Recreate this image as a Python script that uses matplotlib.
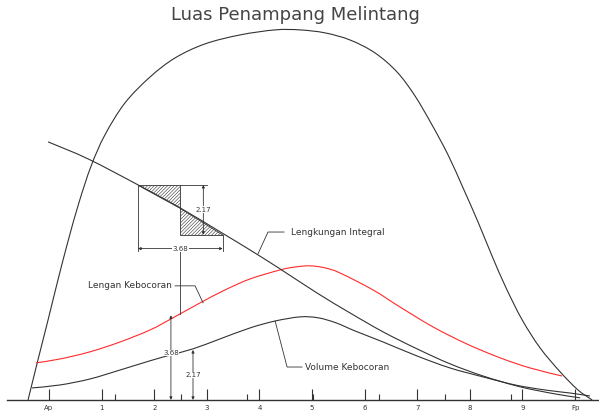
import matplotlib
matplotlib.use('Agg')
import matplotlib.pyplot as plt
from matplotlib.path import Path
from matplotlib.patches import PathPatch

# stations along the hull, spacing in metres
stations = ['Ap', '1', '2', '3', '4', '5', '6', '7', '8', '9', 'Fp']
station_step = 2.287
minor_step = 2.87

# sectional area curve (Luas Penampang)
area_x = [-0.91, -0.48, -0.04, 0.39, 0.83, 1.30, 1.83, 2.43, 3.30, 4.39, 5.48, 6.78,
          8.30, 9.83, 10.91, 12.00, 13.09, 14.17, 15.13, 15.91, 16.65, 17.35, 18.00,
          18.65, 19.26, 19.87, 20.57, 21.35, 22.22, 23.00, 23.61]
area_y = [0.00, 1.74, 3.48, 5.22, 6.91, 8.57, 10.17, 11.52, 12.91, 14.04, 14.87, 15.48,
          15.87, 16.09, 16.09, 15.96, 15.65, 15.09, 14.26, 13.22, 11.96, 10.65, 9.22,
          7.74, 6.26, 4.87, 3.48, 2.26, 1.22, 0.43, 0.00]

# leak lever curve (Lengan Kebocoran)
lever_x = [-0.57, 0.48, 1.78, 3.09, 4.39, 5.30, 6.57, 7.65, 8.74, 10.04, 10.70, 11.35,
           12.00, 12.65, 14.09, 15.26, 16.70, 18.17, 19.61, 20.91, 22.30]
lever_y = [1.61, 1.78, 2.09, 2.52, 3.04, 3.52, 4.22, 4.78, 5.26, 5.65, 5.78, 5.83,
           5.74, 5.52, 4.78, 4.04, 3.17, 2.43, 1.83, 1.39, 1.04]

# leak volume curve (Volume Kebocoran)
vol_x = [-0.74, 0.48, 1.78, 3.09, 4.39, 5.30, 6.26, 7.43, 8.74, 9.83, 10.91, 11.70,
         12.48, 13.30, 14.52, 16.00, 17.43, 18.87, 20.26, 21.57, 22.65, 23.52]
vol_y = [0.52, 0.65, 0.91, 1.30, 1.70, 1.96, 2.22, 2.65, 3.13, 3.43, 3.61, 3.57,
         3.35, 3.00, 2.52, 1.91, 1.39, 1.00, 0.65, 0.43, 0.30, 0.17]

# integral curve (Lengkungan Integral)
integ_x = [-0.04, 1.70, 3.87, 5.70, 7.52, 8.74, 10.04, 11.65, 13.09, 14.52, 16.00,
           17.43, 18.87, 20.48, 22.00, 23.09]
integ_y = [11.22, 10.48, 9.35, 8.35, 7.26, 6.52, 5.70, 4.65, 3.78, 2.96, 2.22,
           1.57, 1.04, 0.57, 0.26, 0.09]

# tangent construction on the integral curve
tan_x = [3.87, 5.71, 7.55]          # left, middle, right
tan_y = [9.35, 8.33, 7.18]          # top, middle, bottom
tan_dx = 3.68
tan_dy = 2.17

# ordinates measured at the bottom
ord_x = [5.30, 6.26]
ord_val = [3.68, 2.17]

ink = '#333333'
plt.rcParams['font.family'] = 'DejaVu Sans'
plt.rcParams['hatch.linewidth'] = 0.4
plt.rcParams['hatch.color'] = ink

fig = plt.figure(figsize=(5.99, 4.16), dpi=100)
ax = fig.add_axes([0, 0, 1, 1])
ax.set_xlim(-2.13, 23.91)
ax.set_ylim(-0.70, 17.39)


def smooth_curve(xs, ys, color, lw=0.8):
    # Catmull-Rom through the points, drawn as cubic bezier segments
    pts = list(zip(xs, ys))
    n = len(pts)
    verts = [pts[0]]
    codes = [Path.MOVETO]
    for i in range(n - 1):
        p0 = pts[max(i - 1, 0)]
        p1 = pts[i]
        p2 = pts[i + 1]
        p3 = pts[min(i + 2, n - 1)]
        c1 = (p1[0] + (p2[0] - p0[0]) / 6, p1[1] + (p2[1] - p0[1]) / 6)
        c2 = (p2[0] - (p3[0] - p1[0]) / 6, p2[1] - (p3[1] - p1[1]) / 6)
        verts += [c1, c2, p2]
        codes += [Path.CURVE4] * 3
    ax.add_patch(PathPatch(Path(verts, codes), facecolor='none', edgecolor=color, lw=lw))


smooth_curve(area_x, area_y, ink)
smooth_curve(lever_x, lever_y, '#ff2a2a')
smooth_curve(vol_x, vol_y, ink)
smooth_curve(integ_x, integ_y, ink)

# hatched triangles of the tangent construction
x0, x1, x2 = tan_x
yt, ym, yb = tan_y
ax.fill([x0, x1, x1], [yt, yt, ym], facecolor='none', edgecolor=ink, lw=0.6, hatch='//////////')
ax.fill([x1, x1, x2], [ym, yb, yb], facecolor='none', edgecolor=ink, lw=0.6, hatch='//////////')


def dim_line(p0, p1, text, tx, ty):
    ax.annotate('', xy=p1, xytext=p0,
                arrowprops=dict(arrowstyle='<|-|>', lw=0.6, color=ink,
                                mutation_scale=4, shrinkA=0, shrinkB=0))
    ax.text(tx, ty, text, fontsize=5, color=ink, ha='center', va='center',
            bbox=dict(facecolor='white', edgecolor='none', pad=0.3))


# vertical dimension beside the triangles
dx_v = x1 + 1.0
ax.plot([x1, dx_v + 0.15], [yt, yt], color=ink, lw=0.6)
dim_line((dx_v, yt), (dx_v, yt - tan_dy), f'{tan_dy:.2f}', dx_v, (yt + yt - tan_dy) / 2)

# horizontal dimension under the triangles
dy_h = yb - 0.6
ax.plot([x0, x0], [yt, dy_h - 0.1], color=ink, lw=0.6)
ax.plot([x0 + tan_dx, x0 + tan_dx], [yb, dy_h - 0.1], color=ink, lw=0.6)
dim_line((x0, dy_h), (x0 + tan_dx, dy_h), f'{tan_dx:.2f}', x1, dy_h)
# drop from the construction down to the lever curve
ax.plot([x1, x1], [dy_h, 3.72], color=ink, lw=0.6)

# ordinates at the bottom
for xo, v in zip(ord_x, ord_val):
    dim_line((xo, 0), (xo, v), f'{v:.2f}', xo, v / 2 + (0.2 if v > 3 else 0.0))

# leaders and labels
lab = dict(fontsize=6.5, color=ink, va='center')
ax.plot([9.09, 9.52, 10.22], [6.36, 7.30, 7.30], color=ink, lw=0.6)
ax.text(10.50, 7.30, 'Lengkungan Integral', **lab)
ax.plot([5.48, 6.35, 6.70], [4.96, 4.96, 4.22], color=ink, lw=0.6)
ax.text(5.35, 4.96, 'Lengan Kebocoran', ha='right', **lab)
ax.plot([9.83, 10.35, 11.00], [3.43, 1.43, 1.43], color=ink, lw=0.6)
ax.text(11.15, 1.43, 'Volume Kebocoran', **lab)

# baseline with station ticks
for s in ['top', 'left', 'right']:
    ax.spines[s].set_visible(False)
ax.spines['bottom'].set_position(('data', 0))
ax.spines['bottom'].set_bounds(-1.83, 23.91)
ax.spines['bottom'].set_color(ink)
ax.spines['bottom'].set_linewidth(1.0)
ax.set_yticks([])
ax.set_xticks([i * station_step for i in range(len(stations))])
ax.set_xticklabels(stations)
ax.set_xticks([k * minor_step for k in range(1, 8)], minor=True)
ax.tick_params(axis='x', which='major', direction='in', length=8, width=0.8,
               color=ink, labelsize=5, labelcolor=ink, pad=4)
ax.tick_params(axis='x', which='minor', direction='in', length=4, width=0.8, color=ink)

fig.text(295.5 / 599, 1 - 15 / 416, 'Luas Penampang Melintang', fontsize=13,
         color='#444444', ha='center', va='center')

fig.savefig('out.png', dpi=100)
